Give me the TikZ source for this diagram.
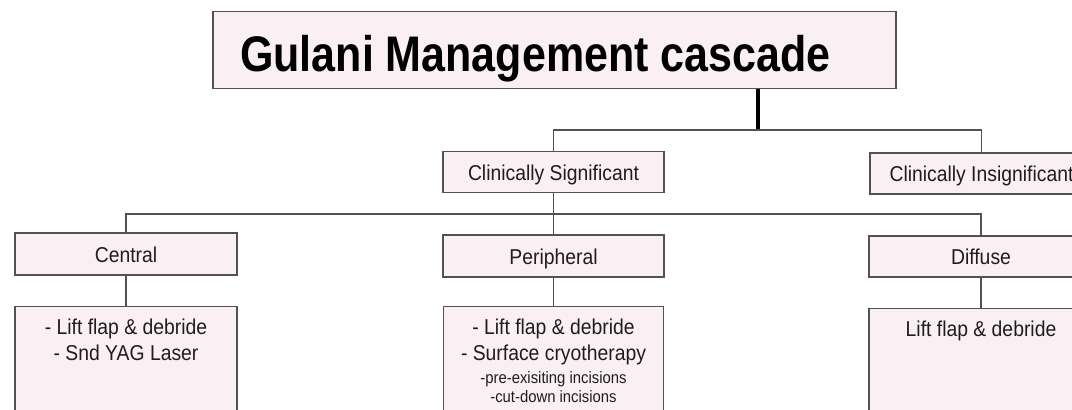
\documentclass[tikz,border=0pt]{standalone}
\usepackage{fontspec}
\setmainfont{Liberation Sans}
\newfontfamily\boxfont[FakeStretch=0.9]{Liberation Sans}
\newfontfamily\titlefont[FakeStretch=0.86]{Liberation Sans}
\definecolor{boxfill}{RGB}{250,240,244}
\definecolor{edge}{RGB}{85,80,88}
\definecolor{ink}{RGB}{30,28,32}
\begin{document}
\begin{tikzpicture}[x=1pt,y=-1pt,
  box/.style={draw=edge, line width=1.3pt, fill=boxfill, rectangle, inner sep=0pt,
    text=ink, text height=18pt, text depth=2pt, font=\boxfont\fontsize{21.5}{26}\selectfont},
  bigbox/.style={draw=edge, line width=1.3pt, fill=boxfill, rectangle, inner sep=0pt, anchor=north},
  conn/.style={draw=edge, line width=1.3pt},
  trunk/.style={draw=black, line width=3.5pt},
  txt/.style={inner sep=0pt, text=ink, align=center, anchor=north,
    font=\boxfont\fontsize{21.5}{26}\selectfont},
  small/.style={}]
\useasboundingbox (0,0) rectangle (1072,410);
\clip (0,0) rectangle (1072,410);
\fill[white] (0,0) rectangle (1072,410);

% title
\node[bigbox, minimum width=683, minimum height=77] (title) at (554.5,11) {};
\node[inner sep=0pt, anchor=base west, text=black,
  font=\titlefont\bfseries\fontsize{50}{60}\selectfont] (titletext) at (240,71.5) {Gulani Management cascade};

% level 1
\node[box, minimum width=221, minimum height=41] (cs) at (553.5,172) {Clinically Significant};
\node[box, minimum width=223, minimum height=41] (ci) at (981.5,173.5) {Clinically Insignificant};

% level 2
\node[box, minimum width=222, minimum height=42] (central) at (126,254) {Central};
\node[box, minimum width=221, minimum height=42] (peripheral) at (553.5,256) {Peripheral};
\node[box, minimum width=224, minimum height=41] (diffuse) at (981,256.5) {Diffuse};

% level 3
\node[bigbox, minimum width=222, minimum height=130] (centralT) at (126,306) {};
\node[bigbox, minimum width=220, minimum height=130] (peripheralT) at (553.5,306) {};
\node[bigbox, minimum width=224, minimum height=130] (diffuseT) at (981,308) {};

\node[txt] (centralL) at (126,318.4) {- Lift flap \& debride\\- Snd YAG Laser};
\node[txt] (peripheralL) at (553.5,318.4) {- Lift flap \& debride\\- Surface cryotherapy\\[-3pt]
  {\fontsize{16.5}{19}\selectfont -pre-exisiting incisions}\\[-7pt]
  {\fontsize{16.5}{19}\selectfont -cut-down incisions}};
\node[txt] (diffuseL) at (981,320.4) {Lift flap \& debride};

% connectors
\coordinate (j1) at (758,130);
\coordinate (j2) at (553.5,214);
\draw[trunk] (title.south -| j1) -- (j1);
\draw[conn] (cs.north) |- (j1) -| (ci.north);
\draw[conn] (cs.south) -- (peripheral.north);
\draw[conn] (central.north) |- (j2) -| (diffuse.north);
\draw[conn] (central.south) -- (centralT.north);
\draw[conn] (peripheral.south) -- (peripheralT.north);
\draw[conn] (diffuse.south) -- (diffuseT.north);
\end{tikzpicture}
\end{document}
